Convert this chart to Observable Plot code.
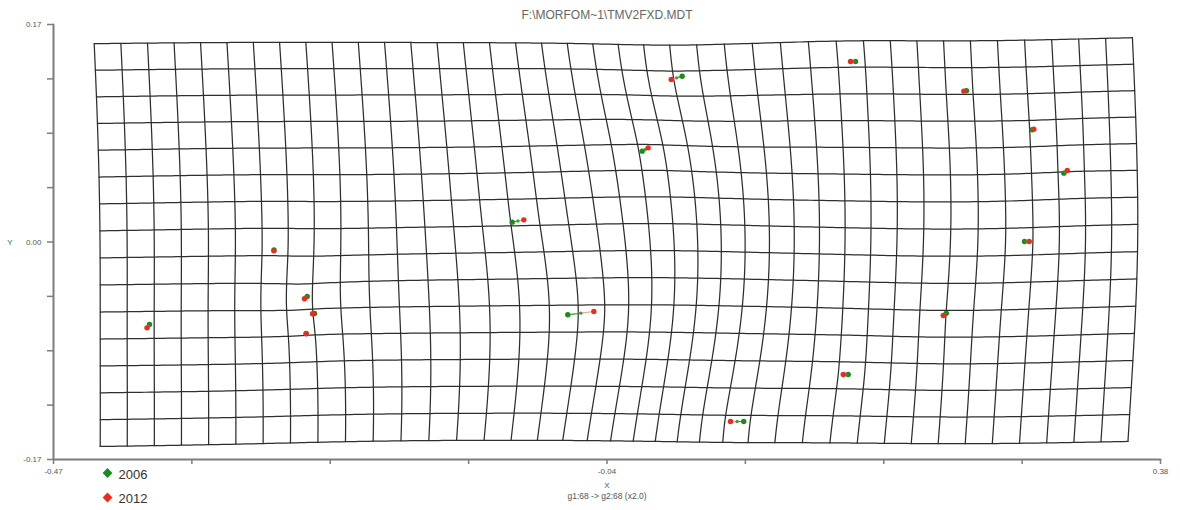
<!DOCTYPE html>
<html>
<head>
<meta charset="utf-8">
<script src="https://cdn.jsdelivr.net/npm/d3@7"></script>
<script src="https://cdn.jsdelivr.net/npm/@observablehq/plot@0.6"></script>
<style>
  html, body { margin: 0; padding: 0; background: #fff; }
  #chart svg { display: block; }
</style>
</head>
<body>
<div id="chart"></div>
<script>
// ---- Data ----
const landmarkIds = [1, 2, 3, 4, 5, 6, 7, 8, 9, 10, 11, 12, 13, 14, 15, 16, 17];
const x2006 = [-0.3963, -0.3007, -0.2752, -0.2696, -0.2760, -0.1178, -0.0751, -0.0180, 0.0127, 0.1458, 0.2310, 0.2815, 0.3058, 0.2756, 0.2155, 0.1402, 0.0600];
const y2006 = [-0.0645, -0.0063, -0.0426, -0.0559, -0.0715, 0.0155, -0.0569, 0.0710, 0.1296, 0.1411, 0.1182, 0.0877, 0.0538, 0.0004, -0.0557, -0.1036, -0.1403];
const x2012 = [-0.3982, -0.3008, -0.2773, -0.2711, -0.2760, -0.1089, -0.0551, -0.0134, 0.0043, 0.1420, 0.2290, 0.2827, 0.3084, 0.2792, 0.2132, 0.1364, 0.0498];
const y2012 = [-0.0671, -0.0069, -0.0444, -0.0561, -0.0718, 0.0173, -0.0543, 0.0736, 0.1270, 0.1411, 0.1179, 0.0882, 0.0559, 0.0004, -0.0574, -0.1036, -0.1403];
const exaggeration = 2.0;

const xDomain = [-0.47, 0.38];
const yDomain = [-0.17, 0.17];
const xTicks = [-0.47, -0.36375, -0.2575, -0.15125, -0.045, 0.06125, 0.1675, 0.27375, 0.38];
const xTickLabels = ["-0.47", "", "", "", "-0.04", "", "", "", "0.38"];
const yTicks = [-0.17, -0.1275, -0.085, -0.0425, 0, 0.0425, 0.085, 0.1275, 0.17];
const yTickLabels = ["-0.17", "", "", "", "0.00", "", "", "", "0.17"];

const titleText = "F:\\MORFOM~1\\TMV2FXD.MDT";
const xLabel = "X";
const yLabel = "Y";
const captionText = "g1:68 -> g2:68 (x2.0)";
const seriesNames = ["2006", "2012"];

// deformation grid (undeformed extent in g1 space, cells)
const gridXExtent = [-0.4315, 0.3595];
const gridYExtent = [-0.1565, 0.1575];
const gridCols = 39;
const gridRows = 15;

// ---- Thin-plate spline from 2006 -> 2012 ----
function solve(A, b) {
  const n = b.length;
  const M = A.map((row, i) => [...row, b[i]]);
  for (let c = 0; c < n; c++) {
    let p = c;
    for (let r = c + 1; r < n; r++) if (Math.abs(M[r][c]) > Math.abs(M[p][c])) p = r;
    [M[c], M[p]] = [M[p], M[c]];
    for (let r = c + 1; r < n; r++) {
      const f = M[r][c] / M[c][c];
      if (f === 0) continue;
      for (let k = c; k <= n; k++) M[r][k] -= f * M[c][k];
    }
  }
  const x = new Array(n).fill(0);
  for (let r = n - 1; r >= 0; r--) {
    let s = M[r][n];
    for (let k = r + 1; k < n; k++) s -= M[r][k] * x[k];
    x[r] = s / M[r][r];
  }
  return x;
}
const U = r2 => (r2 <= 0 ? 0 : r2 * Math.log(r2));
function makeTPS(src, dst) {
  const n = src.length, N = n + 3;
  const A = Array.from({length: N}, () => new Array(N).fill(0));
  for (let i = 0; i < n; i++) {
    for (let j = 0; j < n; j++) {
      const dx = src[i][0] - src[j][0], dy = src[i][1] - src[j][1];
      A[i][j] = U(dx * dx + dy * dy);
    }
    A[i][n] = 1; A[i][n + 1] = src[i][0]; A[i][n + 2] = src[i][1];
    A[n][i] = 1; A[n + 1][i] = src[i][0]; A[n + 2][i] = src[i][1];
  }
  const bx = dst.map(d => d[0]).concat([0, 0, 0]);
  const by = dst.map(d => d[1]).concat([0, 0, 0]);
  const wx = solve(A, bx), wy = solve(A, by);
  return (x, y) => {
    let fx = wx[n] + wx[n + 1] * x + wx[n + 2] * y;
    let fy = wy[n] + wy[n + 1] * x + wy[n + 2] * y;
    for (let i = 0; i < n; i++) {
      const dx = x - src[i][0], dy = y - src[i][1];
      const u = U(dx * dx + dy * dy);
      fx += wx[i] * u; fy += wy[i] * u;
    }
    return [fx, fy];
  };
}

const landmarks = landmarkIds.map((id, i) => ({
  id,
  x06: x2006[i], y06: y2006[i],
  x12: x2012[i], y12: y2012[i],
  xm: x2006[i] + (x2012[i] - x2006[i]) / exaggeration,
  ym: y2006[i] + (y2012[i] - y2006[i]) / exaggeration
}));
const warp = makeTPS(landmarks.map(d => [d.x06, d.y06]), landmarks.map(d => [d.x12, d.y12]));

const gridPts = [];
const sub = 6;
const gdx = (gridXExtent[1] - gridXExtent[0]) / gridCols;
const gdy = (gridYExtent[1] - gridYExtent[0]) / gridRows;
for (let i = 0; i <= gridCols; i++) {
  const gx = gridXExtent[0] + i * gdx;
  for (let k = 0; k <= gridRows * sub; k++) {
    const gy = gridYExtent[0] + k * gdy / sub;
    const [wx, wy] = warp(gx, gy);
    gridPts.push({line: "v" + i, x: wx, y: wy});
  }
}
for (let j = 0; j <= gridRows; j++) {
  const gy = gridYExtent[0] + j * gdy;
  for (let k = 0; k <= gridCols * sub; k++) {
    const gx = gridXExtent[0] + k * gdx / sub;
    const [wx, wy] = warp(gx, gy);
    gridPts.push({line: "h" + j, x: wx, y: wy});
  }
}

// axis lines (an L along the domain edges)
const axisLinePts = [
  {x: xDomain[0], y: yDomain[1]},
  {x: xDomain[0], y: yDomain[0]},
  {x: xDomain[1], y: yDomain[0]}
];

const green = "#1c8a1c";
const red = "#ee2a1f";
const axisGray = "#7d7d7d";
const textGray = "#555";

const chart = Plot.plot({
  width: 1180,
  height: 510,
  marginLeft: 53,
  marginRight: 20,
  marginTop: 24,
  marginBottom: 51,
  style: {fontFamily: "'Liberation Sans', Arial, sans-serif", background: "#fff"},
  x: {domain: xDomain},
  y: {domain: yDomain},
  marks: [
    // deformation grid
    Plot.line(gridPts, {x: "x", y: "y", z: "line", stroke: "#2e2e2e", strokeWidth: 1.25, curve: "linear"}),
    // axes
    Plot.line(axisLinePts, {x: "x", y: "y", stroke: axisGray, strokeWidth: 2}),
    Plot.axisX(xTicks, {tickSize: 5, tickPadding: 4, fontSize: 8, stroke: axisGray, strokeWidth: 1.5, fill: textGray,
      tickFormat: d => xTickLabels[xTicks.indexOf(d)], label: null}),
    Plot.axisY(yTicks, {tickSize: 6, tickPadding: 6, fontSize: 8, stroke: axisGray, strokeWidth: 1.5, fill: textGray,
      tickFormat: d => yTickLabels[yTicks.indexOf(d)], label: null}),
    Plot.text([yLabel], {text: d => d, y: () => 0, frameAnchor: "left", dx: -41, textAnchor: "end", fontSize: 8, fill: textGray}),
    Plot.text([xLabel], {text: d => d, frameAnchor: "bottom", dy: 28, fontSize: 8, fill: textGray}),
    Plot.text([captionText], {text: d => d, frameAnchor: "bottom", dy: 39, fontSize: 8.5, fill: textGray}),
    Plot.text([titleText], {text: d => d, frameAnchor: "top", dy: -14, fontSize: 12, fill: "#666"}),
    // landmark displacement vectors
    Plot.link(landmarks, {x1: "x06", y1: "y06", x2: "xm", y2: "ym", stroke: "#3aa03a", strokeWidth: 1.2}),
    Plot.link(landmarks, {x1: "xm", y1: "ym", x2: "x12", y2: "y12", stroke: "#f4a3a3", strokeWidth: 1.2}),
    Plot.dot(landmarks, {x: "x06", y: "y06", r: 2.7, fill: green}),
    Plot.dot(landmarks, {x: "xm", y: "ym", r: 1.7, fill: "#3a9e3a"}),
    Plot.dot(landmarks, {x: "x12", y: "y12", r: 2.7, fill: red}),
    // legend
    Plot.dot([seriesNames[0]], {frameAnchor: "bottom-left", dx: 54, dy: 13.5, symbol: "diamond2", r: 4.4, fill: green}),
    Plot.dot([seriesNames[1]], {frameAnchor: "bottom-left", dx: 54, dy: 38, symbol: "diamond2", r: 4.4, fill: red}),
    Plot.text([seriesNames[0]], {text: d => d, frameAnchor: "bottom-left", dx: 65, dy: 19, textAnchor: "start", fontSize: 13, fill: "#333"}),
    Plot.text([seriesNames[1]], {text: d => d, frameAnchor: "bottom-left", dx: 65, dy: 43, textAnchor: "start", fontSize: 13, fill: "#333"})
  ]
});
document.getElementById("chart").appendChild(chart);
</script>
</body>
</html>
